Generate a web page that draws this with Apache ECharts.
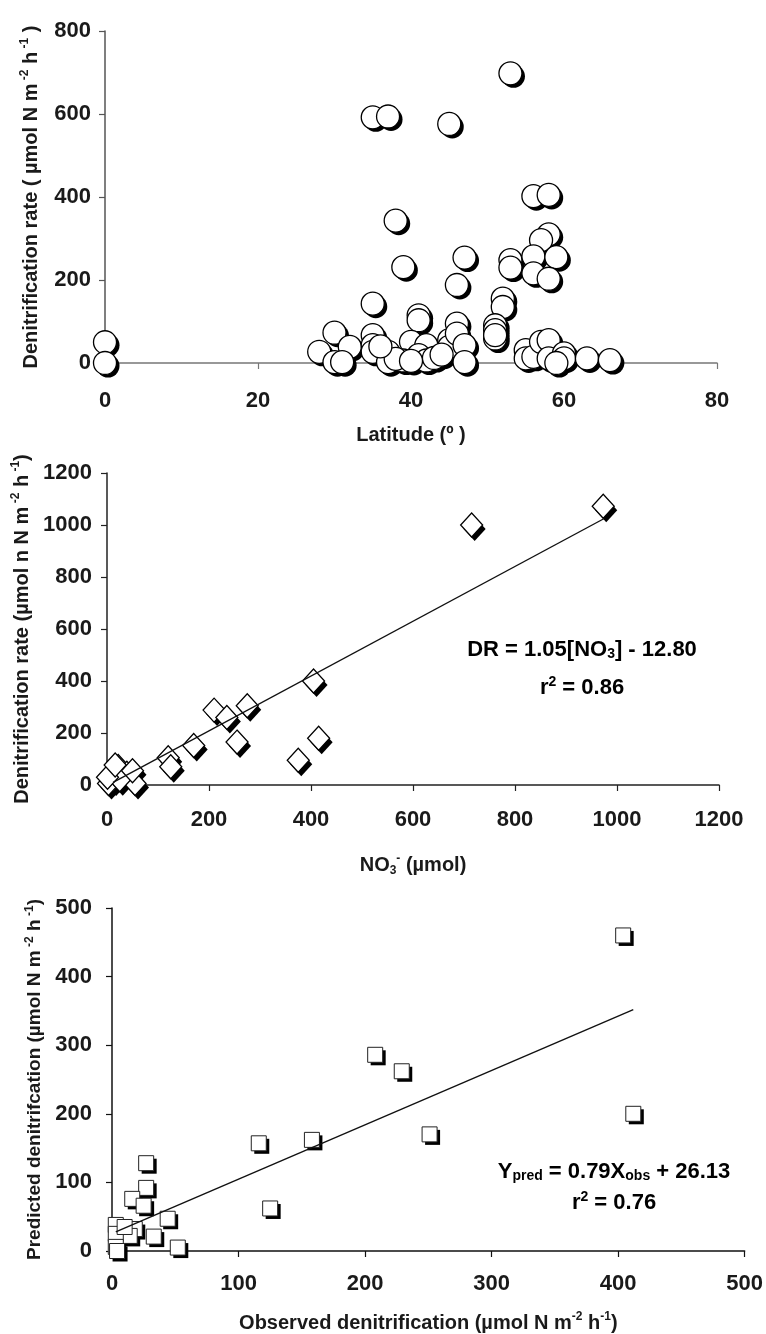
<!DOCTYPE html>
<html>
<head>
<meta charset="utf-8">
<script src="https://cdn.jsdelivr.net/npm/echarts@6/dist/echarts.min.js"></script>
<style>
html,body{margin:0;padding:0;background:#fff;}
#chart{width:766px;height:1334px;}
</style>
</head>
<body>
<div id="chart"></div>
<script>
// ---------- Panel 1: latitude vs denitrification rate ----------
const latitude = [0, 0, 53, 35, 37, 45, 56, 58, 38, 58, 57, 39, 47, 53, 53, 56, 59, 56, 58, 46,
  52, 52, 35, 41, 41, 46, 51, 51, 51, 30, 35, 28, 32, 30, 31, 35, 35, 37, 37, 40,
  42, 39, 41, 42, 45, 45, 46, 47, 47, 55, 55, 56, 57, 58, 58, 60, 60, 59, 63, 66,
  43, 38, 36, 44, 51, 40];
const rateLat = [50, 0, 698, 592, 594, 576, 402, 405, 343, 310, 296, 231, 254, 248, 230, 257, 255, 216, 203, 188,
  155, 135, 143, 115, 103, 95, 91, 79, 59, 73, 67, 27, 39, 2, 2, 43, 27, 27, 2, 51,
  43, 6, 19, 6, 55, 39, 71, 43, 2, 31, 11, 15, 51, 55, 11, 23, 11, 0, 11, 7,
  12, 10, 40, 20, 67, 5];
const latTicks = [0, 20, 40, 60, 80];
const rateLatTicks = [0, 200, 400, 600, 800];

// ---------- Panel 2: NO3 vs denitrification rate ----------
const no3 = [973, 715, 405, 415, 375, 275, 210, 235, 255, 170, 120, 125, 22, 39, 12, 55, 3, 17, 25, 1, 50, 16];
const rateNo3 = [1072, 1000, 400, 180, 95, 305, 288, 260, 165, 152, 105, 70, 71, 45, 19, 6, 6, 39, 20, 30, 55, 77];
const no3FitX = [12, 975];
const no3FitY = [10, 1025];
const no3Ticks = [0, 200, 400, 600, 800, 1000, 1200];

// ---------- Panel 3: observed vs predicted ----------
const observed = [404, 412, 208, 229, 251, 158, 116, 125, 27, 27, 16, 25, 44, 52, 33, 18, 14, 3, 3, 3, 10, 4];
const predicted = [460, 200, 286, 262, 170, 162, 157, 62, 128, 92, 76, 66, 47, 5, 21, 32, 22, 38, 25, 6, 35, 0];
const obsFitX = [3, 412];
const obsFitY = [28, 352];
const obsTicks = [0, 100, 200, 300, 400, 500];

const zip = (a, b) => a.map((v, i) => [v, b[i]]);

const FONT = '"Liberation Sans", Arial, sans-serif';
const TXT = '#1a1a1a';

const tickLabel = (margin) => ({
  fontFamily: FONT, fontWeight: 'bold', fontSize: 22, color: TXT, margin: margin,
  formatter: (v) => String(v)
});

const titleRich = (size) => ({
  t: { fontFamily: FONT, fontWeight: 'bold', fontSize: size, color: TXT },
  sup: { fontFamily: FONT, fontWeight: 'bold', fontSize: Math.round(size * 0.62), color: TXT, verticalAlign: 'top', lineHeight: size * 1.2 },
  sub: { fontFamily: FONT, fontWeight: 'bold', fontSize: Math.round(size * 0.62), color: TXT, verticalAlign: 'bottom', lineHeight: size * 1.0 }
});

function axisStyle(color) {
  return {
    axisLine: { show: true, onZero: false, lineStyle: { color: color, width: 1.5 } },
    axisTick: { show: true, inside: false, length: 6, lineStyle: { color: color, width: 1.2 } },
    splitLine: { show: false }
  };
}

// marker with a solid drop shadow: a dark copy offset down-right, then the white marker on top
function markerPair(xi, data, symbol, size, offset, border, bw) {
  return [
    {
      type: 'scatter', xAxisIndex: xi, yAxisIndex: xi, clip: false, silent: true,
      data: data, symbol: symbol, symbolSize: size, symbolOffset: offset,
      itemStyle: { color: '#000', opacity: 1, borderWidth: 0 }, z: 2,
      emphasis: { disabled: true }
    },
    {
      type: 'scatter', xAxisIndex: xi, yAxisIndex: xi, clip: false,
      data: data, symbol: symbol, symbolSize: size,
      itemStyle: { color: '#fff', opacity: 1, borderColor: border, borderWidth: bw }, z: 3,
      emphasis: { disabled: true }
    }
  ];
}

const chart = echarts.init(document.getElementById('chart'), null, { renderer: 'canvas' });

const option = {
  backgroundColor: '#fff',
  animation: false,
  grid: [
    { left: 105, top: 31, width: 612, height: 332 },
    { left: 107, top: 473, width: 612, height: 312 },
    { left: 112, top: 908, width: 635, height: 344 }
  ],
  xAxis: [
    Object.assign({
      gridIndex: 0, type: 'value', min: latTicks[0], max: latTicks[latTicks.length - 1], interval: 20,
      axisLabel: tickLabel(27),
      name: 'Latitude (º )', nameLocation: 'middle', nameGap: 62,
      nameTextStyle: { fontFamily: FONT, fontWeight: 'bold', fontSize: 20, color: TXT }
    }, axisStyle('#777')),
    Object.assign({
      gridIndex: 1, type: 'value', min: no3Ticks[0], max: no3Ticks[no3Ticks.length - 1], interval: 200,
      axisLabel: tickLabel(24),
      name: '{t|NO}{sub|3}{sup|-}{t| (µmol)}', nameLocation: 'middle', nameGap: 68,
      nameTextStyle: { rich: titleRich(20) }
    }, axisStyle('#222')),
    Object.assign({
      gridIndex: 2, type: 'value', min: obsTicks[0], max: obsTicks[obsTicks.length - 1], interval: 100,
      axisLabel: tickLabel(22),
      name: '{t|Observed denitrification (µmol N m}{sup|-2}{t| h}{sup|-1}{t|)}', nameLocation: 'middle', nameGap: 60,
      nameTextStyle: { rich: titleRich(20) }
    }, axisStyle('#111'))
  ],
  yAxis: [
    Object.assign({
      gridIndex: 0, type: 'value', min: rateLatTicks[0], max: rateLatTicks[rateLatTicks.length - 1], interval: 200,
      axisLabel: tickLabel(14),
      name: '{t|Denitrification rate ( µmol N m}{sup| -2}{t| h}{sup| -1}{t| )}', nameLocation: 'middle', nameGap: 62,
      nameTextStyle: { rich: titleRich(20) }
    }, axisStyle('#555')),
    Object.assign({
      gridIndex: 1, type: 'value', min: no3Ticks[0], max: no3Ticks[no3Ticks.length - 1], interval: 200,
      axisLabel: tickLabel(15),
      name: '{t|Denitrification rate (µmol n N m}{sup| -2}{t| h}{sup| -1}{t|)}', nameLocation: 'middle', nameGap: 72,
      nameTextStyle: { rich: titleRich(20) }
    }, axisStyle('#222')),
    Object.assign({
      gridIndex: 2, type: 'value', min: obsTicks[0], max: obsTicks[obsTicks.length - 1], interval: 100,
      axisLabel: tickLabel(20),
      name: '{t|Predicted denitrifcation (µmol N m}{sup| -2}{t| h}{sup| -1}{t|)}', nameLocation: 'middle', nameGap: 66,
      nameTextStyle: { rich: titleRich(19) }
    }, axisStyle('#111'))
  ],
  series: [].concat(
    markerPair(0, zip(latitude, rateLat), 'circle', 23, [3, 3], '#000', 1.3),
    markerPair(1, zip(no3, rateNo3), 'diamond', [22, 24], [3, 4], '#000', 1.3),
    [{
      type: 'line', xAxisIndex: 1, yAxisIndex: 1, clip: false,
      data: zip(no3FitX, no3FitY), symbol: 'none',
      lineStyle: { color: '#111', width: 1.4 }, z: 4
    }],
    markerPair(2, zip(observed, predicted), 'rect', [15, 15], [3, 3], '#222', 1),
    [{
      type: 'line', xAxisIndex: 2, yAxisIndex: 2, clip: false,
      data: zip(obsFitX, obsFitY), symbol: 'none',
      lineStyle: { color: '#111', width: 1.4 }, z: 4
    }]
  ),
  graphic: [
    {
      type: 'text',
      style: {
        text: '{t|DR = 1.05[NO}{sub|3}{t|] - 12.80}', rich: titleRich(22),
        x: 582, y: 650, align: 'center', verticalAlign: 'middle'
      }
    },
    {
      type: 'text',
      style: {
        text: '{t|r}{sup|2}{t| = 0.86}', rich: titleRich(22),
        x: 582, y: 688, align: 'center', verticalAlign: 'middle'
      }
    },
    {
      type: 'text',
      style: {
        text: '{t|Y}{sub|pred}{t| = 0.79X}{sub|obs}{t| + 26.13}', rich: titleRich(22),
        x: 614, y: 1172, align: 'center', verticalAlign: 'middle'
      }
    },
    {
      type: 'text',
      style: {
        text: '{t|r}{sup|2}{t| = 0.76}', rich: titleRich(22),
        x: 614, y: 1203, align: 'center', verticalAlign: 'middle'
      }
    }
  ]
};
chart.setOption(option);
</script>
</body>
</html>
